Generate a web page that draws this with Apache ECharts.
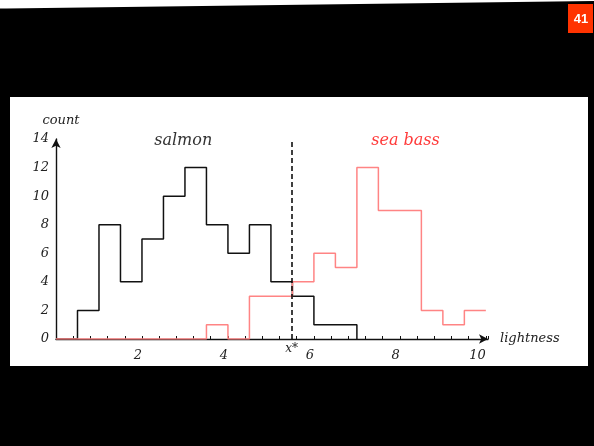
<!DOCTYPE html>
<html>
<head>
<meta charset="utf-8">
<script src="https://cdn.jsdelivr.net/npm/echarts@6/dist/echarts.min.js"></script>
<style>
  html, body { margin: 0; padding: 0; background: #000; }
  #chart { width: 594px; height: 446px; }
</style>
</head>
<body>
<div id="chart"></div>
<script>
  // histogram bins, width 0.5 along "lightness"
  var binEdges = [0, 0.5, 1, 1.5, 2, 2.5, 3, 3.5, 4, 4.5, 5, 5.5, 6, 6.5, 7, 7.5, 8, 8.5, 9, 9.5, 10];
  var salmonCounts = [0, 2, 8, 4, 7, 10, 12, 8, 6, 8, 4, 3, 1, 1];
  var seaBassCounts = [0, 0, 0, 0, 0, 0, 0, 1, 0, 3, 3, 4, 6, 5, 12, 9, 9, 2, 1, 2];
  var xLabelValues = [2, 4, 6, 8, 10];
  var decisionX = 5.48;
  var classNames = ["salmon", "sea bass"];
  var slideNumber = "41";

  var serif = "DejaVu Serif",
    blackColor = "#111", redLine = "#ff8484", redText = "#ff3a3a";

  // turns bin counts into points for a step line (horizontal at each count)
  function stepPoints(counts, endValue) {
    var pts = counts.map(function (c, i) { return [binEdges[i], c]; });
    pts.push([binEdges[counts.length], endValue]);
    return pts;
  }

  function isLabelTick(v) {
    return xLabelValues.some(function (t) { return Math.abs(t - v) < 1e-6; });
  }

  var chartDom = echarts.init(document.getElementById("chart"));

  var option = {
    backgroundColor: "#000",
    animation: false,
    graphic: [
      // white slide strip at the top edge
      { type: "polygon", z: -10, shape: { points: [[0, 0], [594, 0], [594, 1], [6, 8.5], [0, 8.5]] },
        style: { fill: "#fff" } },
      { type: "rect", z: -10, shape: { x: 10, y: 97, width: 578, height: 269 }, style: { fill: "#fff" } },
      { type: "rect", shape: { x: 568, y: 4, width: 25, height: 29 }, style: { fill: "#ff3300" } },
      { type: "text", x: 581, y: 19, style: { text: slideNumber, fill: "#fff", font: "bold 13px 'Liberation Sans', Arial",
        align: "center", verticalAlign: "middle" } }
    ],
    grid: { left: 56, top: 139, width: 432, height: 200 },
    xAxis: {
      type: "value",
      min: 0,
      max: 10.05,
      interval: 0.4,
      name: "lightness",
      nameLocation: "end",
      nameGap: 12,
      nameTextStyle: { fontFamily: serif, fontStyle: "italic", fontSize: 13, color: "#222" },
      axisLine: { show: true, symbol: ["none", "arrow"], symbolSize: [7, 9], lineStyle: { color: blackColor, width: 1.4 } },
      axisTick: { show: true, inside: true, length: 3, interval: 0, lineStyle: { color: blackColor } },
      axisLabel: {
        interval: 0,
        align: "right",
        margin: 10,
        fontFamily: serif, fontStyle: "italic", fontSize: 13, color: "#222",
        formatter: function (v) { return isLabelTick(v) ? String(Math.round(v)) : ""; }
      },
      splitLine: { show: false }
    },
    yAxis: {
      type: "value",
      min: 0,
      max: 14,
      interval: 2,
      name: "count",
      nameLocation: "end",
      nameGap: 12,
      nameTextStyle: { fontFamily: serif, fontStyle: "italic", fontSize: 13, color: "#222", padding: [0, 0, 0, 10] },
      axisLine: { show: true, symbol: ["none", "arrow"], symbolSize: [7, 9], lineStyle: { color: blackColor, width: 1.4 } },
      axisTick: { show: false },
      axisLabel: { margin: 7, fontFamily: serif, fontStyle: "italic", fontSize: 13, color: "#222" },
      splitLine: { show: false }
    },
    series: [
      {
        name: classNames[0],
        type: "line",
        step: "end",
        showSymbol: false,
        data: stepPoints(salmonCounts, 0),
        lineStyle: { color: blackColor, width: 1.5 },
        itemStyle: { color: blackColor },
        z: 2,
        markLine: {
          silent: true,
          symbol: ["none", "none"],
          data: [{ xAxis: decisionX }],
          lineStyle: { color: "#000", width: 1.5, type: [5, 3] },
          label: { show: true, position: "start", distance: 4, formatter: "x*",
            fontFamily: serif, fontStyle: "italic", fontSize: 12, color: "#222" }
        },
        markPoint: {
          silent: true,
          symbol: "circle",
          symbolSize: 1,
          itemStyle: { color: "rgba(0,0,0,0)" },
          data: [{ coord: [2.96, 13.9], value: classNames[0] }],
          label: { show: true, position: "inside", formatter: classNames[0],
            fontFamily: serif, fontStyle: "italic", fontSize: 16, color: "#333" }
        }
      },
      {
        name: classNames[1],
        type: "line",
        step: "end",
        showSymbol: false,
        data: stepPoints(seaBassCounts, 2),
        lineStyle: { color: redLine, width: 1.5 },
        itemStyle: { color: redLine },
        z: 3,
        markPoint: {
          silent: true,
          symbol: "circle",
          symbolSize: 1,
          itemStyle: { color: "rgba(0,0,0,0)" },
          data: [{ coord: [8.13, 13.9], value: classNames[1] }],
          label: { show: true, position: "inside", formatter: classNames[1],
            fontFamily: serif, fontStyle: "italic", fontSize: 16, color: redText }
        }
      }
    ]
  };

  chartDom.setOption(option);
</script>
</body>
</html>
